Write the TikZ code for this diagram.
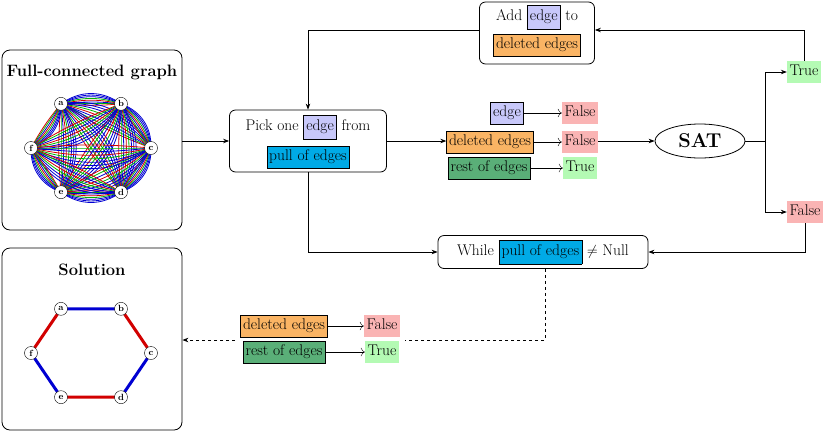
\documentclass[tikz,border=0pt]{standalone}
\usetikzlibrary{arrows.meta,shapes.geometric,calc}
\definecolor{edgec}{RGB}{200,200,250}
\definecolor{delc}{RGB}{250,180,100}
\definecolor{pullc}{RGB}{0,170,230}
\definecolor{restc}{RGB}{90,175,120}
\definecolor{falsec}{RGB}{250,180,180}
\definecolor{truec}{RGB}{180,250,180}
\definecolor{gblue}{RGB}{0,0,210}
\definecolor{gred}{RGB}{210,0,0}
\definecolor{ggreen}{RGB}{0,180,0}
\newcommand{\ibox}[2]{{\setlength{\fboxsep}{2.5pt}\setlength{\fboxrule}{0.5pt}\fcolorbox{black}{#1}{\strut #2}}}
\begin{document}
\begin{tikzpicture}[x=1pt,y=-1pt,
 panel/.style={draw,thick,rounded corners=8pt},
 proc/.style={draw,thick,rounded corners=6pt},
 tag/.style={draw,inner sep=2.5pt,minimum height=22pt,text depth=4pt,text height=11pt},
 flag/.style={inner sep=2.5pt,minimum height=22pt,text depth=4pt,text height=11pt},
 vtx/.style={circle,draw,fill=white,inner sep=0.6pt,minimum size=13pt,font=\small\bfseries},
 arr/.style={thick,-{Stealth[length=6pt]}},
 font=\fontsize{15.5}{18}\selectfont]
\useasboundingbox (0,0) rectangle (830,432);
% panels
\node[panel,minimum width=180pt,minimum height=180pt] (full) at (92,140) {};
\node[font=\fontsize{16.5}{18}\selectfont\bfseries] (fullt) at (92,72) {Full-connected graph};
\node[panel,minimum width=180pt,minimum height=182pt] (sol) at (92,339) {};
\node[font=\fontsize{16.5}{18}\selectfont\bfseries] (solt) at (92,270) {Solution};
% full graph
\foreach \n/\a in {a/120,b/60,c/0,d/-60,e/-120,f/180}{\coordinate (g\n) at ($(91,148)+(\a:60 and -51)$);}
\foreach \p/\q in {a/b,a/c,a/d,a/e,a/f,b/c,b/d,b/e,b/f,c/d,c/e,c/f,d/e,d/f,e/f}{
 \foreach \bb/\cc in {-5/gred,0/ggreen,6/gblue,12/gred,18/ggreen,24/gblue,30/gblue,36/gblue}{
  \draw[\cc,line width=0.8pt] (g\p) to[bend left=\bb] (g\q);}}
\foreach \n in {a,b,c,d,e,f}{\node[vtx] (v\n) at (g\n) {\n};}
% solution graph
\foreach \n/\a in {a/120,b/60,c/0,d/-60,e/-120,f/180}{\coordinate (s\n) at ($(91,353)+(\a:60 and -51)$);}
\draw[gblue,line width=3pt] (sa)--(sb) (sc)--(sd) (se)--(sf);
\draw[gred,line width=3pt] (sb)--(sc) (sd)--(se) (sf)--(sa);
\foreach \n in {a,b,c,d,e,f}{\node[vtx] (w\n) at (s\n) {\n};}
% pick box
\node[proc,minimum width=157pt,minimum height=62pt] (pick) at (308,141) {};
\node (pk1) at (308,127) {Pick one \ibox{edgec}{edge} from};
\node[tag,fill=pullc] (pk2) at (308,157) {pull of edges};
\draw[arr] (full.east|-pick) -- (pick.west);
% middle labels
\node[tag,fill=edgec] (e1) at (507,113) {edge};
\node[flag,fill=falsec] (f1) at (580,113) {False};
\draw[-{To[length=4pt]}] (e1.east) -- (f1.west);
\node[tag,fill=delc] (d1) at (490,142) {deleted edges};
\node[flag,fill=falsec] (f2) at (580,142) {False};
\draw[-{To[length=4pt]}] (d1.east) -- (f2.west);
\node[tag,fill=restc] (r1) at (489,168) {rest of edges};
\node[flag,fill=truec] (t1) at (580,168) {True};
\draw[-{To[length=4pt]}] (r1.east) -- (t1.west);
\draw[arr] (pick.east) -- (pick.east-|d1.west);
% SAT
\node[ellipse,draw,thick,minimum width=90pt,minimum height=34pt,font=\fontsize{20}{22}\selectfont\bfseries] (sat) at (700,141) {SAT};
\draw[arr] (f2.east|-sat) -- (sat.west);
\node[flag,fill=truec] (tr) at (804,72) {True};
\node[flag,fill=falsec] (fa) at (805,212) {False};
\coordinate (sp) at (765,141);
\draw[thick] (sat.east) -- (sp);
\draw[arr] (sp) |- (tr.west);
\draw[arr] (sp) |- (fa.west);
% add box
\node[proc,minimum width=115pt,minimum height=62pt] (add) at (537,33) {};
\node (ad1) at (537,17) {Add \ibox{edgec}{edge} to};
\node[tag,fill=delc] (ad2) at (537,45) {deleted edges};
\coordinate (tu) at (804,30);
\draw[arr] (tr.north) -- (tu) -- (add.east|-tu);
\coordinate (tl) at (308,30);
\draw[arr] (add.west|-tl) -- (tl) -- (pick.north);
% while
\node[proc,minimum width=210pt,minimum height=33pt] (wh) at (543,252) {While \ibox{pullc}{pull of edges} $\neq$ Null};
\coordinate (fd) at (805,252);
\draw[arr] (fa.south) -- (fd) -- (wh.east);
\coordinate (pd) at (308,252);
\draw[arr] (pick.south) -- (pd) -- (wh.west);
% result labels
\node[tag,fill=delc] (d2) at (284,326) {deleted edges};
\node[flag,fill=falsec] (f3) at (382,326) {False};
\draw[-{To[length=4pt]}] (d2.east) -- (f3.west);
\node[tag,fill=restc] (r2) at (284,352) {rest of edges};
\node[flag,fill=truec] (t3) at (382,352) {True};
\draw[-{To[length=4pt]}] (r2.east) -- (t3.west);
\coordinate (wd) at (545,340);
\coordinate (wl) at (405,340);
\coordinate (sr) at (235,340);
\draw[thick,dashed] (wh.south-|wd) -- (wd) -- (wl);
\draw[arr,dashed] (sr) -- (sol.east|-sr);
\end{tikzpicture}
\end{document}
